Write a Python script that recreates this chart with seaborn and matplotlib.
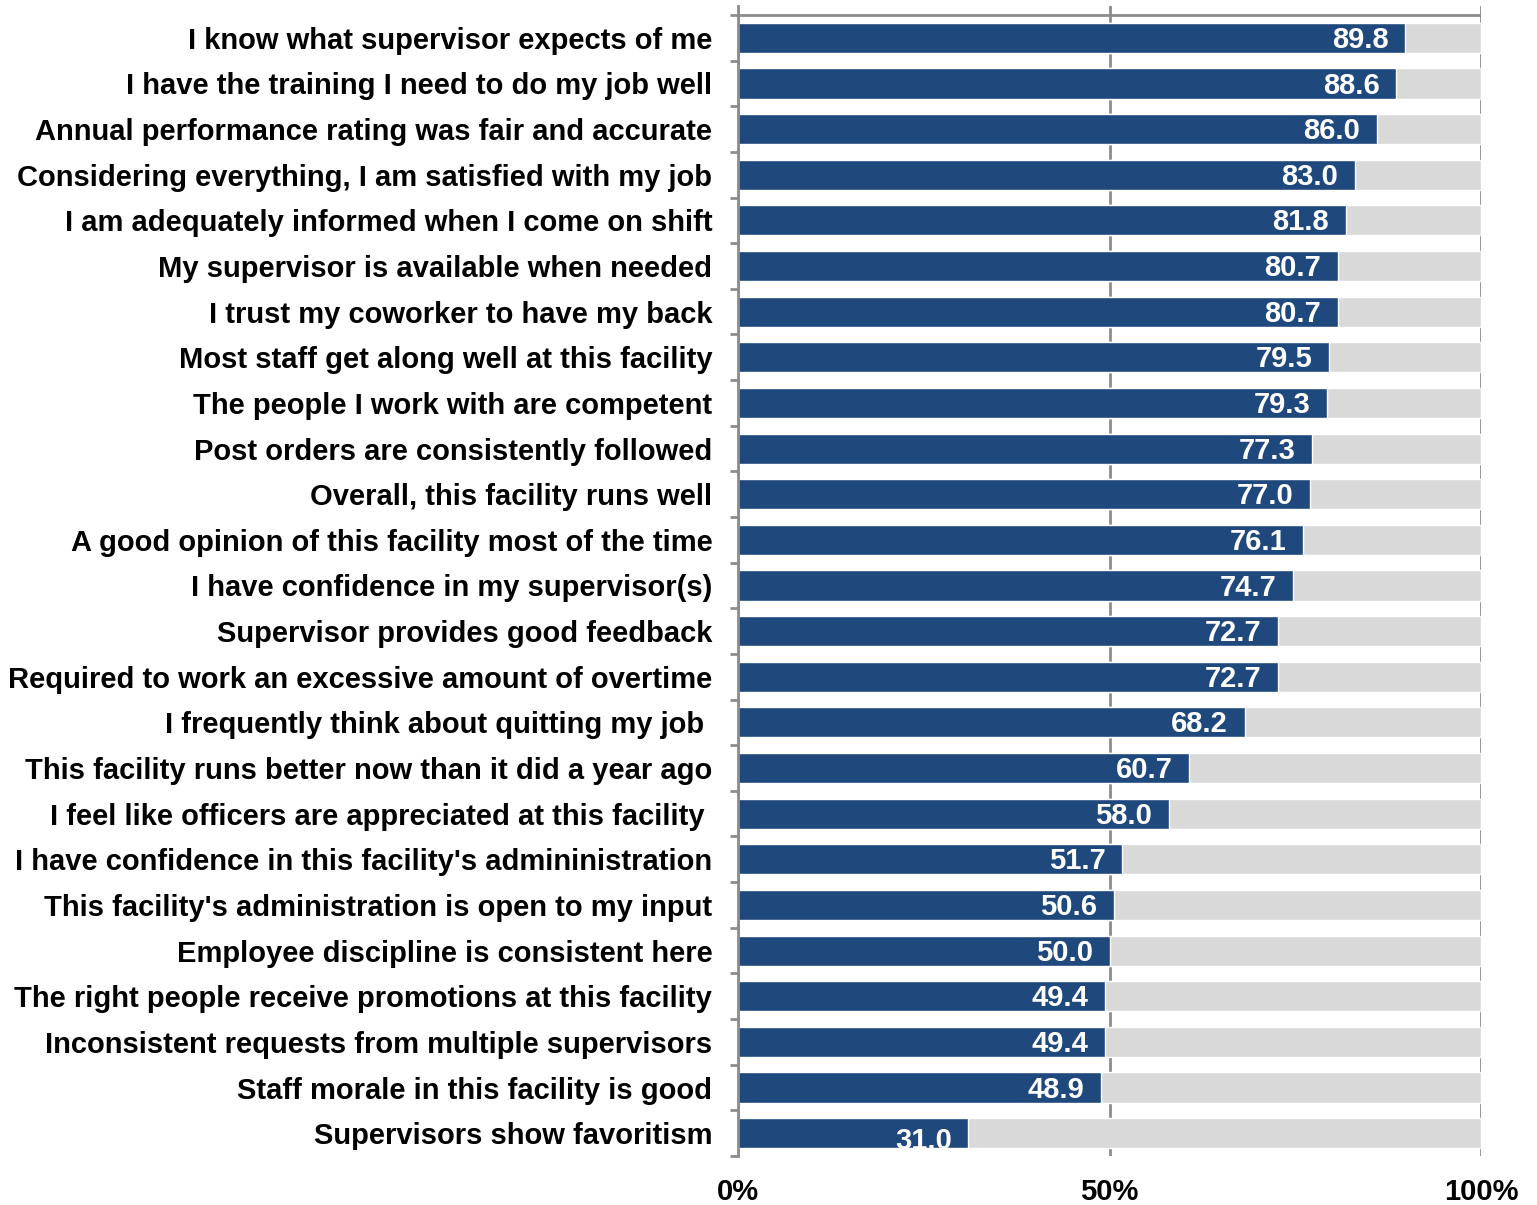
import matplotlib
matplotlib.use("Agg")
import matplotlib.pyplot as plt
import seaborn as sns
import pandas as pd
from matplotlib.ticker import FixedLocator

# Survey items and percent agreeing
items = [
    "I know what supervisor expects of me",
    "I have the training I need to do my job well",
    "Annual performance rating was fair and accurate",
    "Considering everything, I am satisfied with my job",
    "I am adequately informed when I come on shift",
    "My supervisor is available when needed",
    "I trust my coworker to have my back",
    "Most staff get along well at this facility",
    "The people I work with are competent",
    "Post orders are consistently followed",
    "Overall, this facility runs well",
    "A good opinion of this facility most of the time",
    "I have confidence in my supervisor(s)",
    "Supervisor provides good feedback",
    "Required to work an excessive amount of overtime",
    "I frequently think about quitting my job ",
    "This facility runs better now than it did a year ago",
    "I feel like officers are appreciated at this facility ",
    "I have confidence in this facility's admininistration",
    "This facility's administration is open to my input",
    "Employee discipline is consistent here",
    "The right people receive promotions at this facility",
    "Inconsistent requests from multiple supervisors",
    "Staff morale in this facility is good",
    "Supervisors show favoritism",
]
agree = [89.8, 88.6, 86.0, 83.0, 81.8, 80.7, 80.7, 79.5, 79.3, 77.3, 77.0,
         76.1, 74.7, 72.7, 72.7, 68.2, 60.7, 58.0, 51.7, 50.6, 50.0, 49.4,
         49.4, 48.9, 31.0]
total = [100.0] * len(items)
x_ticks = [0, 50, 100]
x_tick_labels = ["0%", "50%", "100%"]

df = pd.DataFrame({"item": items, "agree": agree, "total": total})

sns.set_theme(style="white")
plt.rcParams["font.family"] = ["Liberation Sans", "DejaVu Sans"]
plt.rcParams["font.weight"] = "bold"

BLUE = "#1F497D"
LIGHT = "#D9D9D9"
GRID = "#8C8C8C"
FS = 21

fig = plt.figure(figsize=(15.37, 12.05), dpi=100)
ax = fig.add_axes([0.4802, 0.0407, 0.4834, 0.9543])

sns.barplot(data=df, x="total", y="item", orient="h", color=LIGHT,
            width=0.66, saturation=1, ax=ax, zorder=2)
n_bg = len(ax.patches)
sns.barplot(data=df, x="agree", y="item", orient="h", color=BLUE,
            width=0.66, saturation=1, ax=ax, zorder=3)
blue_bars = ax.patches[n_bg:]

n = len(items)
ax.set_xlim(0, 100)
ax.set_ylim(n - 0.5, -0.697)
ax.set_xlabel("")
ax.set_ylabel("")

# vertical gridlines behind the bars
for xv in x_ticks:
    ax.axvline(xv, color=GRID, lw=2, zorder=1)
ax.axhline(-0.5, color=GRID, lw=2, zorder=1)

ax.set_xticks(x_ticks)
ax.set_xticklabels(x_tick_labels, fontsize=FS, fontweight="bold", color="black")
ax.tick_params(axis="x", length=0, pad=16)

ax.yaxis.set_minor_locator(FixedLocator([i - 0.5 for i in range(n + 1)]))
ax.tick_params(axis="y", which="major", length=0, pad=18.5,
               labelsize=FS, labelcolor="black")
ax.tick_params(axis="y", which="minor", length=6, width=2, color=GRID, left=True)
for lab in ax.get_yticklabels():
    lab.set_fontweight("bold")

for side in ["top", "right", "bottom"]:
    ax.spines[side].set_visible(False)
ax.spines["left"].set_color(GRID)
ax.spines["left"].set_linewidth(2)
ax.spines["left"].set_zorder(4)

# value labels inside the bar ends
for i, (bar, val) in enumerate(zip(blue_bars, agree)):
    yoff = -5.5 if i == n - 1 else -1.5
    t = ax.annotate(f"{val:.1f}", xy=(val, i), xytext=(-12, yoff),
                    textcoords="offset points", ha="right", va="center",
                    color="white", fontsize=FS, fontweight="bold", zorder=5)
    if i == n - 1:
        t.set_clip_path(bar)

fig.savefig("out.png", dpi=100)
